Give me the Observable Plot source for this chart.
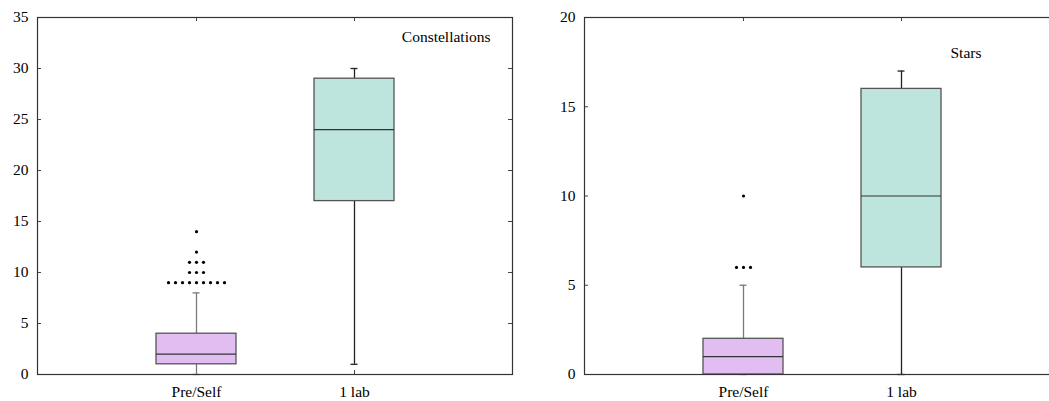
<!DOCTYPE html>
<html>
<head>
<meta charset="utf-8">
<script src="https://cdn.jsdelivr.net/npm/d3@7"></script>
<script src="https://cdn.jsdelivr.net/npm/@observablehq/plot@0.6"></script>
<style>
  html, body { margin: 0; padding: 0; background: #fff; }
  #wrap { position: relative; width: 1049px; height: 401px; overflow: hidden; }
  #left { position: absolute; left: 0; top: 0; width: 520px; }
  #right { position: absolute; left: 520px; top: 0; width: 545px; }
  svg { max-width: none !important; }
</style>
</head>
<body>
<div id="wrap"><div id="left"></div><div id="right"></div></div>
<script>
// ---- data ----
const categories = ["Pre/Self", "1 lab"];

// Constellations panel
const constQ1 = [1, 17];
const constMedian = [2, 24];
const constQ3 = [4, 29];
const constLow = [0, 1];
const constHigh = [8, 30];
const constOutliers = [9, 9, 9, 9, 9, 9, 9, 9, 9, 10, 10, 10, 11, 11, 11, 12, 14]; // Pre/Self
const constTicks = [0, 5, 10, 15, 20, 25, 30, 35];

// Stars panel
const starsQ1 = [0, 6];
const starsMedian = [1, 10];
const starsQ3 = [2, 16];
const starsLow = [0, 0];
const starsHigh = [5, 17];
const starsOutliers = [6, 6, 6, 10]; // Pre/Self
const starsTicks = [0, 5, 10, 15, 20];

// ---- styles ----
const serif = "Liberation Serif";
const fills = ["#e2bdf1", "#bee5dd"];
const whiskerColors = ["#7a7a7a", "#222222"];

function boxTable(q1, med, q3, lo, hi) {
  return categories.map((c, i) => ({cat: c, q1: q1[i], median: med[i], q3: q3[i], low: lo[i], high: hi[i], fill: fills[i], wc: whiskerColors[i]}));
}

function outlierTable(values, cat) {
  const groups = d3.group(values, v => v);
  const rows = [];
  for (const [v, arr] of groups) {
    arr.forEach((_, j) => rows.push({cat, value: v, k: j - (arr.length - 1) / 2}));
  }
  return rows;
}

function panel({boxes, outliers, yMax, ticks, label, labelOpts, width, marginLeft, marginRight}) {
  const marginTop = 17, marginBottom = 27, height = 401;
  const fw = width - marginLeft - marginRight;
  const fh = height - marginTop - marginBottom;
  const offsets = Array.from(new Set(outliers.map(d => d.k)));
  const svg = Plot.plot({
    width, height, marginLeft, marginRight, marginTop, marginBottom,
    style: {fontFamily: serif, fontSize: "15px", color: "#000", background: "white", maxWidth: "none"},
    x: {type: "band", domain: categories, paddingInner: 0.495, paddingOuter: 0.7475, label: null},
    y: {domain: [0, yMax], label: null},
    marks: [
      Plot.axisY({ticks, tickSize: 0, tickPadding: 9, fontSize: 15.5, fontFamily: serif, fill: "#000", label: null}),
      Plot.axisX({tickSize: 0, tickPadding: 11, fontSize: 15.5, fontFamily: serif, fill: "#000", label: null}),
      // inward tick marks
      Plot.tickY(ticks, {y: d => d, insetRight: fw - 4, stroke: "#444"}),
      Plot.tickY(ticks, {y: d => d, insetLeft: fw - 4, stroke: "#444"}),
      Plot.tickX(categories, {x: d => d, insetBottom: fh - 4, stroke: "#444"}),
      Plot.tickX(categories, {x: d => d, insetTop: fh - 4, stroke: "#444"}),
      // whiskers
      Plot.ruleX(boxes, {x: "cat", y1: "q3", y2: "high", stroke: "wc", strokeWidth: 1.3}),
      Plot.ruleX(boxes, {x: "cat", y1: "low", y2: "q1", stroke: "wc", strokeWidth: 1.3}),
      Plot.tickY(boxes, {x: "cat", y: "high", stroke: "wc", strokeWidth: 1.3, insetLeft: 36.5, insetRight: 36.5}),
      Plot.tickY(boxes, {x: "cat", y: "low", stroke: "wc", strokeWidth: 1.3, insetLeft: 36.5, insetRight: 36.5}),
      // boxes
      Plot.barY(boxes, {x: "cat", y1: "q1", y2: "q3", fill: "fill", stroke: "#555", strokeWidth: 1.3}),
      Plot.tickY(boxes, {x: "cat", y: "median", stroke: "#333", strokeWidth: 1.2}),
      // outliers
      ...offsets.map(k => Plot.dot(outliers.filter(d => d.k === k), {x: "cat", y: "value", dx: k * 7, r: 1.6, fill: "#000", stroke: "none"})),
      Plot.text([label], {frameAnchor: labelOpts.anchor, dx: labelOpts.dx, dy: labelOpts.dy, textAnchor: labelOpts.textAnchor, lineAnchor: "middle", fontSize: 15.5, fontFamily: serif, fill: "#000"}),
      Plot.frame({stroke: "#333", strokeWidth: 1.2})
    ]
  });
  d3.select(svg).selectAll("text, g").attr("font-family", serif).style("font-family", serif);
  return svg;
}

document.getElementById("left").append(panel({
  boxes: boxTable(constQ1, constMedian, constQ3, constLow, constHigh),
  outliers: outlierTable(constOutliers, "Pre/Self"),
  yMax: 35, ticks: constTicks, label: "Constellations",
  labelOpts: {anchor: "top-right", dx: -22, dy: 20, textAnchor: "end"},
  width: 520, marginLeft: 37, marginRight: 8
}));

document.getElementById("right").append(panel({
  boxes: boxTable(starsQ1, starsMedian, starsQ3, starsLow, starsHigh),
  outliers: outlierTable(starsOutliers, "Pre/Self"),
  yMax: 20, ticks: starsTicks, label: "Stars",
  labelOpts: {anchor: "top-left", dx: 366, dy: 36, textAnchor: "start"},
  width: 545, marginLeft: 64, marginRight: 5
}));
</script>
</body>
</html>
